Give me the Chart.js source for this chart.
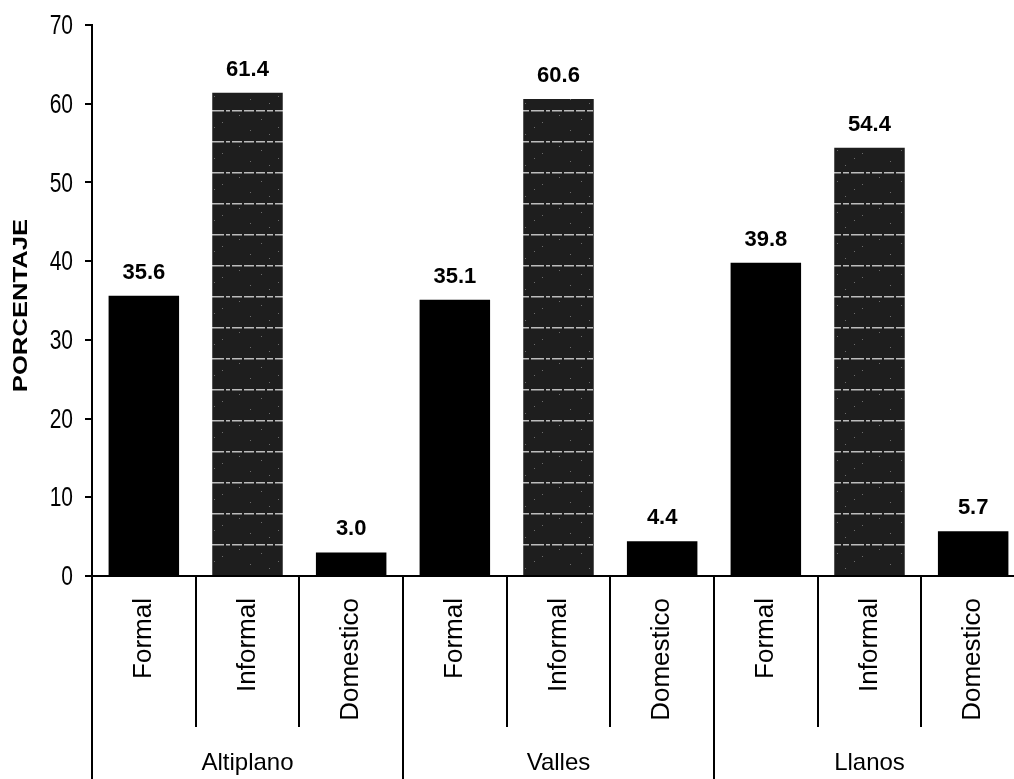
<!DOCTYPE html>
<html>
<head>
<meta charset="utf-8">
<script src="https://cdn.jsdelivr.net/npm/chart.js@4/dist/chart.umd.min.js"></script>
<style>
  html, body { margin: 0; padding: 0; background: #fff; overflow: hidden; }
  #wrap { width: 1014px; height: 779px; overflow: hidden; }
</style>
</head>
<body>
<div id="wrap"><canvas id="c" width="1025" height="779"></canvas></div>
<script>
// Employment sector shares (%) by region
const regions = ['Altiplano', 'Valles', 'Llanos'];
const sectors = ['Formal', 'Informal', 'Domestico'];
const altiplano = [35.6, 61.4, 3.0];
const valles = [35.1, 60.6, 4.4];
const llanos = [39.8, 54.4, 5.7];
const yTicks = [0, 10, 20, 30, 40, 50, 60, 70];
const yTitle = 'PORCENTAJE';

const labels = [];
const values = [];
[altiplano, valles, llanos].forEach(function (group) {
  sectors.forEach(function (s, i) {
    labels.push(s);
    values.push(group[i]);
  });
});

const ctx = document.getElementById('c').getContext('2d');

// Dark fill with faint white horizontal dashes for the informal sector
function stripedFill() {
  const p = document.createElement('canvas');
  p.width = 64; p.height = 31;
  const g = p.getContext('2d');
  g.fillStyle = '#1e1e1e';
  g.fillRect(0, 0, p.width, p.height);
  g.fillStyle = 'rgba(255,255,255,0.7)';
  const dashes = [[0, 9], [11, 6], [19, 13], [34, 4], [40, 10], [52, 10]];
  dashes.forEach(function (d) { g.fillRect(d[0], 0, d[1], 1.5); });
  g.fillStyle = 'rgba(255,255,255,0.35)';
  [[5, 9], [22, 17], [47, 5], [13, 24], [58, 20], [30, 12]].forEach(function (d) { g.fillRect(d[0], d[1], 1, 1); });
  const pat = ctx.createPattern(p, 'repeat');
  if (pat.setTransform) pat.setTransform(new DOMMatrix().translate(0, 17));
  return pat;
}
const informalFill = stripedFill();
const colors = labels.map(function (l) { return l === 'Informal' ? informalFill : '#000000'; });

const family = "'Liberation Sans', Arial, sans-serif";

// Value labels above bars
const valueLabels = {
  id: 'valueLabels',
  afterDatasetsDraw(chart) {
    const c = chart.ctx;
    const meta = chart.getDatasetMeta(0);
    c.save();
    c.fillStyle = '#000';
    c.font = 'bold 22px ' + family;
    c.textAlign = 'center';
    c.textBaseline = 'alphabetic';
    meta.data.forEach(function (bar, i) {
      c.fillText(values[i].toFixed(1), bar.x, bar.y - 17);
    });
    c.restore();
  }
};

// Tall, narrow tick numbers and axis title on the value axis
const valueAxisText = {
  id: 'valueAxisText',
  afterDraw(chart) {
    const c = chart.ctx;
    const ys = chart.scales.y;
    const stretch = 1.35;
    c.save();
    c.fillStyle = '#000';
    c.font = '21px ' + family;
    c.textAlign = 'right';
    c.textBaseline = 'middle';
    yTicks.forEach(function (v) {
      const y = ys.getPixelForValue(v);
      c.save();
      c.translate(ys.right - 19, y);
      c.scale(1, stretch);
      c.fillText(String(v), 0, 1);
      c.restore();
    });
    c.save();
    c.translate(21, (ys.top + ys.bottom) / 2 + 5);
    c.rotate(-Math.PI / 2);
    c.scale(stretch, 1.1);
    c.font = 'bold 19px ' + family;
    c.textAlign = 'center';
    c.textBaseline = 'middle';
    c.fillText(yTitle, 0, 0);
    c.restore();
    c.restore();
  }
};

// Category separators and region names below the axis
const groupAxis = {
  id: 'groupAxis',
  afterDraw(chart) {
    const c = chart.ctx;
    const xs = chart.scales.x;
    const area = chart.chartArea;
    const bottom = chart.height;
    const shortEnd = xs.bottom - 52;
    c.save();
    c.strokeStyle = '#000';
    c.lineWidth = 2;
    c.beginPath();
    c.moveTo(area.left, area.bottom);
    c.lineTo(area.left, bottom);
    for (let i = 1; i < labels.length; i++) {
      const x = Math.round((xs.getPixelForValue(i - 1) + xs.getPixelForValue(i)) / 2);
      const end = (i % sectors.length === 0) ? bottom : shortEnd;
      c.moveTo(x, area.bottom);
      c.lineTo(x, end);
    }
    c.stroke();
    c.fillStyle = '#000';
    c.font = '24px ' + family;
    c.textAlign = 'center';
    c.textBaseline = 'middle';
    regions.forEach(function (r, g) {
      const a = xs.getPixelForValue(g * 3);
      const b = xs.getPixelForValue(g * 3 + 2);
      c.fillText(r, (a + b) / 2, xs.bottom - 16);
    });
    c.restore();
  }
};

new Chart(ctx, {
  type: 'bar',
  data: {
    labels: labels,
    datasets: [{
      data: values,
      backgroundColor: colors,
      borderWidth: 0,
      barPercentage: 0.68,
      categoryPercentage: 1.0
    }]
  },
  options: {
    responsive: false,
    devicePixelRatio: 1,
    animation: false,
    layout: { padding: { top: 25, right: 0, left: 0, bottom: 0 } },
    plugins: { legend: { display: false }, tooltip: { enabled: false } },
    scales: {
      x: {
        grid: { display: false },
        border: { display: true, color: '#000', width: 2 },
        ticks: {
          autoSkip: false,
          minRotation: 90,
          maxRotation: 90,
          padding: 14,
          color: '#000',
          font: { family: family, size: 26 }
        },
        afterFit(s) { s.height = 203; }
      },
      y: {
        min: 0,
        max: 70,
        afterBuildTicks(s) { s.ticks = yTicks.map(function (v) { return { value: v }; }); },
        ticks: { display: false },
        grid: { drawOnChartArea: false, drawTicks: true, tickLength: 7, color: '#000', lineWidth: 2 },
        border: { display: true, color: '#000', width: 2 },
        afterFit(s) { s.width = 92; }
      }
    }
  },
  plugins: [valueLabels, valueAxisText, groupAxis]
});
</script>
</body>
</html>
